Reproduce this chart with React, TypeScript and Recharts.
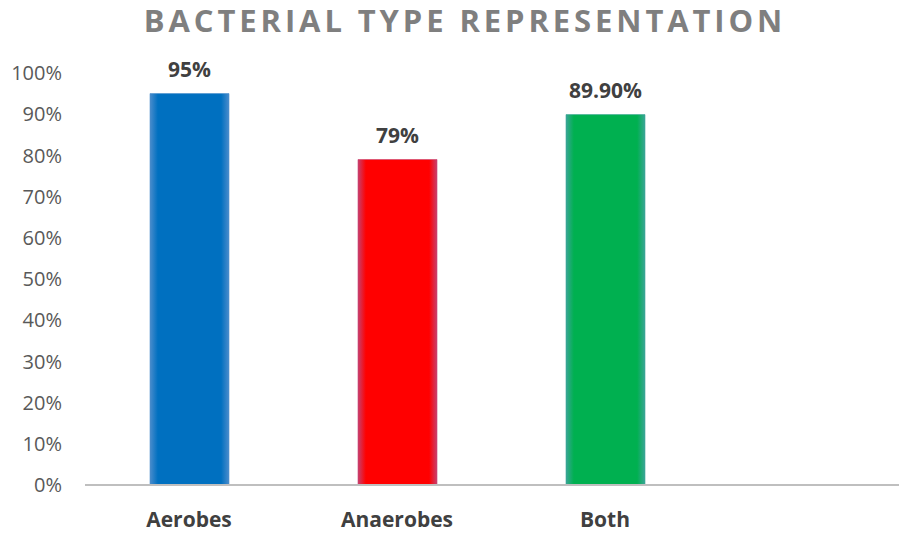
import { BarChart, Bar, XAxis, YAxis, Cell, LabelList } from "recharts";

const categories = ["Aerobes", "Anaerobes", "Both", ""];
const shares = [0.95, 0.79, 0.899, null];
const labels = ["95%", "79%", "89.90%", ""];
const yTicks = [0, 0.1, 0.2, 0.3, 0.4, 0.5, 0.6, 0.7, 0.8, 0.9, 1];

const colors = ["#0070C0", "#FF0000", "#00B050", "#FFFFFF"];
const edges = ["#4a8ccc", "#c8406e", "#3aa596", "#FFFFFF"];

const data = categories.map((name, i) => ({ name, value: shares[i], label: labels[i] }));

const font = "'Open Sans', sans-serif";

const App = () => {
  return (
    <div style={{ position: "relative", width: 899, height: 533, marginTop: -8, overflow: "hidden", fontFamily: font }}>
      <div
        style={{
          position: "absolute",
          top: 2,
          left: 0,
          width: 899,
          paddingLeft: 15,
          boxSizing: "border-box",
          textAlign: "center",
          fontSize: 31,
          fontWeight: 700,
          letterSpacing: 3.9,
          color: "#7F7F7F",
          lineHeight: "36px",
          whiteSpace: "nowrap",
        }}
      >
        BACTERIAL TYPE REPRESENTATION
      </div>
      <BarChart width={930} height={533} data={data} margin={{ top: 73, right: 21, bottom: 0, left: 0 }}>
        <defs>
          {colors.map((c, i) => (
            <linearGradient key={i} id={`bar-grad-${i}`} x1="0" y1="0" x2="1" y2="0">
              <stop offset="0%" stopColor={edges[i]} />
              <stop offset="10%" stopColor={c} />
              <stop offset="90%" stopColor={c} />
              <stop offset="100%" stopColor={edges[i]} />
            </linearGradient>
          ))}
        </defs>
        <XAxis
          dataKey="name"
          height={48}
          axisLine={{ stroke: "#BFBFBF", strokeWidth: 2 }}
          tickLine={false}
          tickSize={0}
          tickMargin={27}
          interval={0}
          tick={{ fill: "#404040", fontSize: 21, fontWeight: 700, fontFamily: font }}
        />
        <YAxis
          width={77}
          domain={[0, 1]}
          ticks={yTicks}
          axisLine={false}
          tickLine={false}
          tickSize={0}
          tickMargin={23}
          interval={0}
          tickFormatter={(v: number) => `${Math.round(v * 100)}%`}
          tick={{ fill: "#595959", fontSize: 20, fontFamily: font }}
        />
        <Bar dataKey="value" barSize={79} isAnimationActive={false}>
          {data.map((d, i) => (
            <Cell key={d.name + i} fill={`url(#bar-grad-${i})`} stroke={edges[i]} strokeOpacity={0.6} strokeWidth={1} />
          ))}
          <LabelList
            dataKey="label"
            position="top"
            offset={17}
            style={{ fill: "#404040", fontSize: 21, fontWeight: 700, fontFamily: font }}
          />
        </Bar>
      </BarChart>
    </div>
  );
};

export default App;
